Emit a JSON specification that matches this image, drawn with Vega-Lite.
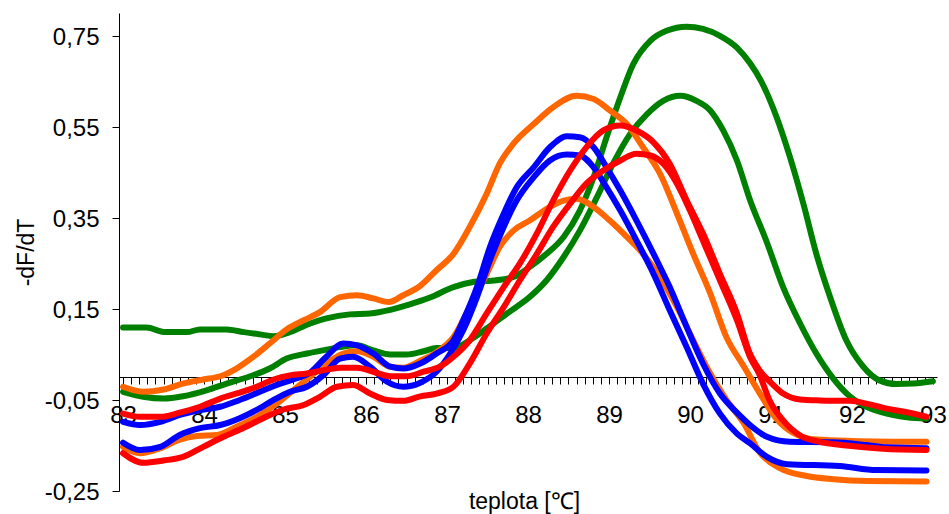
{
 "$schema": "https://vega.github.io/schema/vega-lite/v6.json",
 "width": 818,
 "height": 478,
 "autosize": "none",
 "padding": {"left": 119, "top": 13, "right": 12, "bottom": 23},
 "background": "white",
 "config": {"view": {"stroke": null}, "font": "Liberation Sans"},
 "data": {"values": [
  {"s":"G1","g":"A","t":83.0,"d":0.109},{"s":"G1","g":"A","t":83.29,"d":0.109},{"s":"G1","g":"A","t":83.52,"d":0.099},{"s":"G1","g":"A","t":83.79,"d":0.099},{"s":"G1","g":"A","t":83.95,"d":0.105},{"s":"G1","g":"A","t":84.28,"d":0.105},{"s":"G1","g":"A","t":84.49,"d":0.099},{"s":"G1","g":"A","t":84.69,"d":0.094},{"s":"G1","g":"A","t":84.86,"d":0.090},{"s":"G1","g":"A","t":85.06,"d":0.099},{"s":"G1","g":"A","t":85.31,"d":0.118},{"s":"G1","g":"A","t":85.51,"d":0.129},{"s":"G1","g":"A","t":85.80,"d":0.138},{"s":"G1","g":"A","t":86.05,"d":0.140},{"s":"G1","g":"A","t":86.30,"d":0.148},{"s":"G1","g":"A","t":86.54,"d":0.160},{"s":"G1","g":"A","t":86.79,"d":0.175},{"s":"G1","g":"A","t":87.08,"d":0.198},{"s":"G1","g":"A","t":87.32,"d":0.209},{"s":"G1","g":"A","t":87.61,"d":0.213},{"s":"G1","g":"A","t":87.82,"d":0.220},{"s":"G1","g":"A","t":88.02,"d":0.242},{"s":"G1","g":"A","t":88.23,"d":0.271},{"s":"G1","g":"A","t":88.44,"d":0.308},{"s":"G1","g":"A","t":88.64,"d":0.366},{"s":"G1","g":"A","t":88.81,"d":0.439},{"s":"G1","g":"A","t":88.97,"d":0.527},{"s":"G1","g":"A","t":89.14,"d":0.615},{"s":"G1","g":"A","t":89.30,"d":0.688},{"s":"G1","g":"A","t":89.51,"d":0.739},{"s":"G1","g":"A","t":89.71,"d":0.761},{"s":"G1","g":"A","t":89.96,"d":0.770},{"s":"G1","g":"A","t":90.16,"d":0.765},{"s":"G1","g":"A","t":90.37,"d":0.750},{"s":"G1","g":"A","t":90.58,"d":0.724},{"s":"G1","g":"A","t":90.74,"d":0.690},{"s":"G1","g":"A","t":90.88,"d":0.650},{"s":"G1","g":"A","t":91.07,"d":0.571},{"s":"G1","g":"A","t":91.23,"d":0.486},{"s":"G1","g":"A","t":91.40,"d":0.381},{"s":"G1","g":"A","t":91.56,"d":0.271},{"s":"G1","g":"A","t":91.73,"d":0.176},{"s":"G1","g":"A","t":91.93,"d":0.081},{"s":"G1","g":"A","t":92.14,"d":0.023},{"s":"G1","g":"A","t":92.34,"d":-0.007},{"s":"G1","g":"A","t":92.55,"d":-0.015},{"s":"G1","g":"A","t":92.76,"d":-0.014},{"s":"G1","g":"A","t":93.0,"d":-0.009},

  {"s":"G2","g":"A","t":83.0,"d":-0.032},{"s":"G2","g":"A","t":83.25,"d":-0.043},{"s":"G2","g":"A","t":83.50,"d":-0.047},{"s":"G2","g":"A","t":83.74,"d":-0.042},{"s":"G2","g":"A","t":84.03,"d":-0.029},{"s":"G2","g":"A","t":84.28,"d":-0.014},{"s":"G2","g":"A","t":84.57,"d":0.002},{"s":"G2","g":"A","t":84.81,"d":0.019},{"s":"G2","g":"A","t":85.02,"d":0.041},{"s":"G2","g":"A","t":85.27,"d":0.052},{"s":"G2","g":"A","t":85.47,"d":0.059},{"s":"G2","g":"A","t":85.68,"d":0.066},{"s":"G2","g":"A","t":85.89,"d":0.070},{"s":"G2","g":"A","t":86.09,"d":0.059},{"s":"G2","g":"A","t":86.30,"d":0.050},{"s":"G2","g":"A","t":86.50,"d":0.050},{"s":"G2","g":"A","t":86.71,"d":0.057},{"s":"G2","g":"A","t":86.87,"d":0.064},{"s":"G2","g":"A","t":87.08,"d":0.064},{"s":"G2","g":"A","t":87.28,"d":0.081},{"s":"G2","g":"A","t":87.49,"d":0.107},{"s":"G2","g":"A","t":87.74,"d":0.140},{"s":"G2","g":"A","t":88.02,"d":0.176},{"s":"G2","g":"A","t":88.23,"d":0.213},{"s":"G2","g":"A","t":88.44,"d":0.264},{"s":"G2","g":"A","t":88.64,"d":0.322},{"s":"G2","g":"A","t":88.85,"d":0.395},{"s":"G2","g":"A","t":89.05,"d":0.469},{"s":"G2","g":"A","t":89.26,"d":0.534},{"s":"G2","g":"A","t":89.47,"d":0.578},{"s":"G2","g":"A","t":89.67,"d":0.607},{"s":"G2","g":"A","t":89.88,"d":0.618},{"s":"G2","g":"A","t":90.08,"d":0.607},{"s":"G2","g":"A","t":90.25,"d":0.586},{"s":"G2","g":"A","t":90.41,"d":0.542},{"s":"G2","g":"A","t":90.58,"d":0.476},{"s":"G2","g":"A","t":90.74,"d":0.390},{"s":"G2","g":"A","t":90.95,"d":0.296},{"s":"G2","g":"A","t":91.15,"d":0.198},{"s":"G2","g":"A","t":91.36,"d":0.118},{"s":"G2","g":"A","t":91.56,"d":0.052},{"s":"G2","g":"A","t":91.77,"d":-0.003},{"s":"G2","g":"A","t":91.98,"d":-0.043},{"s":"G2","g":"A","t":92.18,"d":-0.065},{"s":"G2","g":"A","t":92.43,"d":-0.080},{"s":"G2","g":"A","t":92.68,"d":-0.088},{"s":"G2","g":"A","t":92.92,"d":-0.091},

  {"s":"O1","g":"B","t":83.0,"d":-0.021},{"s":"O1","g":"B","t":83.25,"d":-0.032},{"s":"O1","g":"B","t":83.50,"d":-0.027},{"s":"O1","g":"B","t":83.74,"d":-0.014},{"s":"O1","g":"B","t":83.99,"d":-0.005},{"s":"O1","g":"B","t":84.20,"d":0.002},{"s":"O1","g":"B","t":84.40,"d":0.019},{"s":"O1","g":"B","t":84.61,"d":0.045},{"s":"O1","g":"B","t":84.81,"d":0.074},{"s":"O1","g":"B","t":85.02,"d":0.105},{"s":"O1","g":"B","t":85.23,"d":0.125},{"s":"O1","g":"B","t":85.43,"d":0.143},{"s":"O1","g":"B","t":85.68,"d":0.176},{"s":"O1","g":"B","t":85.89,"d":0.180},{"s":"O1","g":"B","t":86.09,"d":0.173},{"s":"O1","g":"B","t":86.28,"d":0.165},{"s":"O1","g":"B","t":86.46,"d":0.180},{"s":"O1","g":"B","t":86.65,"d":0.198},{"s":"O1","g":"B","t":86.87,"d":0.235},{"s":"O1","g":"B","t":87.08,"d":0.271},{"s":"O1","g":"B","t":87.28,"d":0.330},{"s":"O1","g":"B","t":87.49,"d":0.403},{"s":"O1","g":"B","t":87.65,"d":0.469},{"s":"O1","g":"B","t":87.82,"d":0.513},{"s":"O1","g":"B","t":88.07,"d":0.556},{"s":"O1","g":"B","t":88.31,"d":0.593},{"s":"O1","g":"B","t":88.60,"d":0.618},{"s":"O1","g":"B","t":88.81,"d":0.611},{"s":"O1","g":"B","t":89.01,"d":0.586},{"s":"O1","g":"B","t":89.22,"d":0.556},{"s":"O1","g":"B","t":89.42,"d":0.505},{"s":"O1","g":"B","t":89.63,"d":0.447},{"s":"O1","g":"B","t":89.84,"d":0.359},{"s":"O1","g":"B","t":90.04,"d":0.271},{"s":"O1","g":"B","t":90.25,"d":0.184},{"s":"O1","g":"B","t":90.45,"d":0.088},{"s":"O1","g":"B","t":90.66,"d":0.025},{"s":"O1","g":"B","t":90.86,"d":-0.035},{"s":"O1","g":"B","t":91.07,"d":-0.092},{"s":"O1","g":"B","t":91.27,"d":-0.122},{"s":"O1","g":"B","t":91.56,"d":-0.137},{"s":"O1","g":"B","t":92.0,"d":-0.140},{"s":"O1","g":"B","t":92.92,"d":-0.142},

  {"s":"O2","g":"B","t":83.0,"d":-0.153},{"s":"O2","g":"B","t":83.21,"d":-0.167},{"s":"O2","g":"B","t":83.46,"d":-0.156},{"s":"O2","g":"B","t":83.70,"d":-0.137},{"s":"O2","g":"B","t":83.91,"d":-0.129},{"s":"O2","g":"B","t":84.16,"d":-0.127},{"s":"O2","g":"B","t":84.40,"d":-0.109},{"s":"O2","g":"B","t":84.65,"d":-0.087},{"s":"O2","g":"B","t":84.90,"d":-0.058},{"s":"O2","g":"B","t":85.10,"d":-0.029},{"s":"O2","g":"B","t":85.31,"d":0.001},{"s":"O2","g":"B","t":85.51,"d":0.030},{"s":"O2","g":"B","t":85.72,"d":0.052},{"s":"O2","g":"B","t":85.89,"d":0.057},{"s":"O2","g":"B","t":86.09,"d":0.045},{"s":"O2","g":"B","t":86.30,"d":0.023},{"s":"O2","g":"B","t":86.46,"d":0.021},{"s":"O2","g":"B","t":86.67,"d":0.036},{"s":"O2","g":"B","t":86.87,"d":0.055},{"s":"O2","g":"B","t":87.08,"d":0.088},{"s":"O2","g":"B","t":87.28,"d":0.154},{"s":"O2","g":"B","t":87.49,"d":0.227},{"s":"O2","g":"B","t":87.65,"d":0.286},{"s":"O2","g":"B","t":87.82,"d":0.322},{"s":"O2","g":"B","t":88.02,"d":0.344},{"s":"O2","g":"B","t":88.23,"d":0.370},{"s":"O2","g":"B","t":88.44,"d":0.388},{"s":"O2","g":"B","t":88.60,"d":0.392},{"s":"O2","g":"B","t":88.81,"d":0.374},{"s":"O2","g":"B","t":89.01,"d":0.344},{"s":"O2","g":"B","t":89.22,"d":0.308},{"s":"O2","g":"B","t":89.42,"d":0.271},{"s":"O2","g":"B","t":89.63,"d":0.220},{"s":"O2","g":"B","t":89.84,"d":0.154},{"s":"O2","g":"B","t":90.04,"d":0.081},{"s":"O2","g":"B","t":90.25,"d":0.008},{"s":"O2","g":"B","t":90.45,"d":-0.050},{"s":"O2","g":"B","t":90.66,"d":-0.100},{"s":"O2","g":"B","t":90.86,"d":-0.165},{"s":"O2","g":"B","t":91.11,"d":-0.200},{"s":"O2","g":"B","t":91.44,"d":-0.217},{"s":"O2","g":"B","t":91.77,"d":-0.224},{"s":"O2","g":"B","t":92.18,"d":-0.228},{"s":"O2","g":"B","t":92.92,"d":-0.229},

  {"s":"B1","g":"C","t":83.0,"d":-0.098},{"s":"B1","g":"C","t":83.21,"d":-0.105},{"s":"B1","g":"C","t":83.46,"d":-0.098},{"s":"B1","g":"C","t":83.70,"d":-0.083},{"s":"B1","g":"C","t":83.95,"d":-0.072},{"s":"B1","g":"C","t":84.20,"d":-0.065},{"s":"B1","g":"C","t":84.44,"d":-0.050},{"s":"B1","g":"C","t":84.69,"d":-0.032},{"s":"B1","g":"C","t":84.90,"d":-0.017},{"s":"B1","g":"C","t":85.10,"d":-0.005},{"s":"B1","g":"C","t":85.31,"d":0.010},{"s":"B1","g":"C","t":85.51,"d":0.045},{"s":"B1","g":"C","t":85.72,"d":0.074},{"s":"B1","g":"C","t":85.89,"d":0.070},{"s":"B1","g":"C","t":86.09,"d":0.052},{"s":"B1","g":"C","t":86.30,"d":0.023},{"s":"B1","g":"C","t":86.46,"d":0.019},{"s":"B1","g":"C","t":86.67,"d":0.030},{"s":"B1","g":"C","t":86.87,"d":0.052},{"s":"B1","g":"C","t":87.08,"d":0.081},{"s":"B1","g":"C","t":87.20,"d":0.125},{"s":"B1","g":"C","t":87.37,"d":0.198},{"s":"B1","g":"C","t":87.53,"d":0.286},{"s":"B1","g":"C","t":87.70,"d":0.359},{"s":"B1","g":"C","t":87.86,"d":0.417},{"s":"B1","g":"C","t":88.07,"d":0.461},{"s":"B1","g":"C","t":88.27,"d":0.505},{"s":"B1","g":"C","t":88.48,"d":0.529},{"s":"B1","g":"C","t":88.64,"d":0.527},{"s":"B1","g":"C","t":88.81,"d":0.505},{"s":"B1","g":"C","t":88.97,"d":0.461},{"s":"B1","g":"C","t":89.14,"d":0.410},{"s":"B1","g":"C","t":89.34,"d":0.344},{"s":"B1","g":"C","t":89.55,"d":0.271},{"s":"B1","g":"C","t":89.75,"d":0.198},{"s":"B1","g":"C","t":89.96,"d":0.110},{"s":"B1","g":"C","t":90.16,"d":0.030},{"s":"B1","g":"C","t":90.37,"d":-0.036},{"s":"B1","g":"C","t":90.58,"d":-0.078},{"s":"B1","g":"C","t":90.74,"d":-0.105},{"s":"B1","g":"C","t":90.95,"d":-0.131},{"s":"B1","g":"C","t":91.23,"d":-0.142},{"s":"B1","g":"C","t":91.77,"d":-0.143},{"s":"B1","g":"C","t":92.18,"d":-0.149},{"s":"B1","g":"C","t":92.43,"d":-0.154},{"s":"B1","g":"C","t":92.92,"d":-0.156},

  {"s":"B2","g":"C","t":83.0,"d":-0.144},{"s":"B2","g":"C","t":83.21,"d":-0.160},{"s":"B2","g":"C","t":83.46,"d":-0.153},{"s":"B2","g":"C","t":83.70,"d":-0.127},{"s":"B2","g":"C","t":83.95,"d":-0.112},{"s":"B2","g":"C","t":84.20,"d":-0.105},{"s":"B2","g":"C","t":84.44,"d":-0.090},{"s":"B2","g":"C","t":84.65,"d":-0.072},{"s":"B2","g":"C","t":84.86,"d":-0.050},{"s":"B2","g":"C","t":85.06,"d":-0.032},{"s":"B2","g":"C","t":85.27,"d":-0.021},{"s":"B2","g":"C","t":85.47,"d":0.004},{"s":"B2","g":"C","t":85.68,"d":0.041},{"s":"B2","g":"C","t":85.84,"d":0.045},{"s":"B2","g":"C","t":86.05,"d":0.023},{"s":"B2","g":"C","t":86.26,"d":-0.010},{"s":"B2","g":"C","t":86.46,"d":-0.021},{"s":"B2","g":"C","t":86.67,"d":-0.012},{"s":"B2","g":"C","t":86.87,"d":0.012},{"s":"B2","g":"C","t":87.04,"d":0.052},{"s":"B2","g":"C","t":87.20,"d":0.103},{"s":"B2","g":"C","t":87.37,"d":0.176},{"s":"B2","g":"C","t":87.53,"d":0.257},{"s":"B2","g":"C","t":87.70,"d":0.330},{"s":"B2","g":"C","t":87.86,"d":0.388},{"s":"B2","g":"C","t":88.07,"d":0.439},{"s":"B2","g":"C","t":88.27,"d":0.476},{"s":"B2","g":"C","t":88.48,"d":0.489},{"s":"B2","g":"C","t":88.64,"d":0.487},{"s":"B2","g":"C","t":88.81,"d":0.461},{"s":"B2","g":"C","t":88.97,"d":0.417},{"s":"B2","g":"C","t":89.14,"d":0.366},{"s":"B2","g":"C","t":89.34,"d":0.300},{"s":"B2","g":"C","t":89.55,"d":0.227},{"s":"B2","g":"C","t":89.75,"d":0.147},{"s":"B2","g":"C","t":89.96,"d":0.066},{"s":"B2","g":"C","t":90.16,"d":-0.014},{"s":"B2","g":"C","t":90.37,"d":-0.080},{"s":"B2","g":"C","t":90.58,"d":-0.124},{"s":"B2","g":"C","t":90.74,"d":-0.145},{"s":"B2","g":"C","t":90.95,"d":-0.175},{"s":"B2","g":"C","t":91.20,"d":-0.191},{"s":"B2","g":"C","t":91.85,"d":-0.195},{"s":"B2","g":"C","t":92.30,"d":-0.204},{"s":"B2","g":"C","t":92.92,"d":-0.205},

  {"s":"R1","g":"D","t":83.0,"d":-0.080},{"s":"R1","g":"D","t":83.21,"d":-0.087},{"s":"R1","g":"D","t":83.46,"d":-0.087},{"s":"R1","g":"D","t":83.70,"d":-0.078},{"s":"R1","g":"D","t":83.95,"d":-0.065},{"s":"R1","g":"D","t":84.20,"d":-0.047},{"s":"R1","g":"D","t":84.44,"d":-0.034},{"s":"R1","g":"D","t":84.65,"d":-0.021},{"s":"R1","g":"D","t":84.86,"d":-0.005},{"s":"R1","g":"D","t":85.06,"d":0.004},{"s":"R1","g":"D","t":85.27,"d":0.008},{"s":"R1","g":"D","t":85.47,"d":0.015},{"s":"R1","g":"D","t":85.68,"d":0.021},{"s":"R1","g":"D","t":85.89,"d":0.021},{"s":"R1","g":"D","t":86.09,"d":0.012},{"s":"R1","g":"D","t":86.30,"d":0.002},{"s":"R1","g":"D","t":86.50,"d":0.002},{"s":"R1","g":"D","t":86.71,"d":0.012},{"s":"R1","g":"D","t":86.91,"d":0.023},{"s":"R1","g":"D","t":87.08,"d":0.045},{"s":"R1","g":"D","t":87.28,"d":0.081},{"s":"R1","g":"D","t":87.49,"d":0.140},{"s":"R1","g":"D","t":87.70,"d":0.198},{"s":"R1","g":"D","t":87.90,"d":0.250},{"s":"R1","g":"D","t":88.11,"d":0.316},{"s":"R1","g":"D","t":88.31,"d":0.388},{"s":"R1","g":"D","t":88.52,"d":0.454},{"s":"R1","g":"D","t":88.72,"d":0.505},{"s":"R1","g":"D","t":88.93,"d":0.542},{"s":"R1","g":"D","t":89.14,"d":0.553},{"s":"R1","g":"D","t":89.34,"d":0.542},{"s":"R1","g":"D","t":89.55,"d":0.516},{"s":"R1","g":"D","t":89.75,"d":0.469},{"s":"R1","g":"D","t":89.96,"d":0.388},{"s":"R1","g":"D","t":90.16,"d":0.316},{"s":"R1","g":"D","t":90.37,"d":0.227},{"s":"R1","g":"D","t":90.58,"d":0.140},{"s":"R1","g":"D","t":90.74,"d":0.052},{"s":"R1","g":"D","t":90.86,"d":0.015},{"s":"R1","g":"D","t":91.00,"d":-0.012},{"s":"R1","g":"D","t":91.15,"d":-0.036},{"s":"R1","g":"D","t":91.36,"d":-0.049},{"s":"R1","g":"D","t":91.60,"d":-0.051},{"s":"R1","g":"D","t":91.98,"d":-0.052},{"s":"R1","g":"D","t":92.18,"d":-0.058},{"s":"R1","g":"D","t":92.43,"d":-0.069},{"s":"R1","g":"D","t":92.68,"d":-0.077},{"s":"R1","g":"D","t":92.92,"d":-0.087},

  {"s":"R2","g":"D","t":83.0,"d":-0.167},{"s":"R2","g":"D","t":83.25,"d":-0.188},{"s":"R2","g":"D","t":83.50,"d":-0.183},{"s":"R2","g":"D","t":83.74,"d":-0.175},{"s":"R2","g":"D","t":83.99,"d":-0.153},{"s":"R2","g":"D","t":84.24,"d":-0.131},{"s":"R2","g":"D","t":84.49,"d":-0.111},{"s":"R2","g":"D","t":84.73,"d":-0.090},{"s":"R2","g":"D","t":84.98,"d":-0.071},{"s":"R2","g":"D","t":85.23,"d":-0.061},{"s":"R2","g":"D","t":85.43,"d":-0.043},{"s":"R2","g":"D","t":85.64,"d":-0.021},{"s":"R2","g":"D","t":85.84,"d":-0.017},{"s":"R2","g":"D","t":86.05,"d":-0.036},{"s":"R2","g":"D","t":86.26,"d":-0.050},{"s":"R2","g":"D","t":86.46,"d":-0.052},{"s":"R2","g":"D","t":86.67,"d":-0.042},{"s":"R2","g":"D","t":86.87,"d":-0.036},{"s":"R2","g":"D","t":87.08,"d":-0.021},{"s":"R2","g":"D","t":87.28,"d":0.030},{"s":"R2","g":"D","t":87.49,"d":0.096},{"s":"R2","g":"D","t":87.70,"d":0.154},{"s":"R2","g":"D","t":87.90,"d":0.213},{"s":"R2","g":"D","t":88.11,"d":0.271},{"s":"R2","g":"D","t":88.31,"d":0.330},{"s":"R2","g":"D","t":88.52,"d":0.381},{"s":"R2","g":"D","t":88.72,"d":0.425},{"s":"R2","g":"D","t":88.93,"d":0.454},{"s":"R2","g":"D","t":89.14,"d":0.476},{"s":"R2","g":"D","t":89.34,"d":0.491},{"s":"R2","g":"D","t":89.51,"d":0.487},{"s":"R2","g":"D","t":89.67,"d":0.469},{"s":"R2","g":"D","t":89.84,"d":0.425},{"s":"R2","g":"D","t":90.00,"d":0.366},{"s":"R2","g":"D","t":90.16,"d":0.300},{"s":"R2","g":"D","t":90.37,"d":0.213},{"s":"R2","g":"D","t":90.58,"d":0.125},{"s":"R2","g":"D","t":90.74,"d":0.045},{"s":"R2","g":"D","t":90.86,"d":0.005},{"s":"R2","g":"D","t":90.98,"d":-0.050},{"s":"R2","g":"D","t":91.15,"d":-0.095},{"s":"R2","g":"D","t":91.36,"d":-0.128},{"s":"R2","g":"D","t":91.60,"d":-0.142},{"s":"R2","g":"D","t":91.93,"d":-0.150},{"s":"R2","g":"D","t":92.38,"d":-0.157},{"s":"R2","g":"D","t":92.92,"d":-0.160}
 ]},
 "encoding": {
  "x": {
   "field": "t", "type": "quantitative",
   "scale": {"domain": [82.95, 93.05], "nice": false, "zero": false},
   "axis": {
    "values": [83,83.1,83.2,83.3,83.4,83.5,83.6,83.7,83.8,83.9,84,84.1,84.2,84.3,84.4,84.5,84.6,84.7,84.8,84.9,85,85.1,85.2,85.3,85.4,85.5,85.6,85.7,85.8,85.9,86,86.1,86.2,86.3,86.4,86.5,86.6,86.7,86.8,86.9,87,87.1,87.2,87.3,87.4,87.5,87.6,87.7,87.8,87.9,88,88.1,88.2,88.3,88.4,88.5,88.6,88.7,88.8,88.9,89,89.1,89.2,89.3,89.4,89.5,89.6,89.7,89.8,89.9,90,90.1,90.2,90.3,90.4,90.5,90.6,90.7,90.8,90.9,91,91.1,91.2,91.3,91.4,91.5,91.6,91.7,91.8,91.9,92,92.1,92.2,92.3,92.4,92.5,92.6,92.7,92.8,92.9,93],
    "offset": -114,
    "grid": false,
    "domainColor": "black", "domainWidth": 1,
    "tickColor": "black", "tickSize": 7, "tickWidth": 1,
    "labelExpr": "abs(datum.value - round(datum.value)) < 0.01 ? format(datum.value, 'd') : ''",
    "labelFontSize": 24, "labelColor": "black", "labelFont": "Liberation Sans",
    "labelBaseline": "alphabetic", "labelPadding": 38,
    "labelOverlap": false, "labelBound": false, "labelFlush": false,
    "title": "teplota [℃]", "titleFontSize": 23, "titleFontWeight": "normal", "titleColor": "black", "titleFont": "Liberation Sans",
    "titleBaseline": "alphabetic", "titleY": 131, "titleX": 405
   }
  },
  "y": {
   "field": "d", "type": "quantitative",
   "scale": {"domain": [-0.25, 0.8], "nice": false, "zero": false},
   "axis": {
    "values": [-0.25, -0.05, 0.15, 0.35, 0.55, 0.75],
    "labelExpr": "(datum.value < 0 ? '-' : '') + replace(format(abs(datum.value), '.2f'), '.', ',')",
    "grid": false,
    "domainColor": "black", "domainWidth": 1,
    "tickColor": "black", "tickSize": 7, "tickWidth": 1,
    "labelFontSize": 24, "labelColor": "black", "labelFont": "Liberation Sans",
    "labelPadding": 13, "labelBaseline": "alphabetic", "labelOffset": 8.6,
    "labelOverlap": false, "labelBound": false, "labelFlush": false,
    "title": "-dF/dT", "titleFontSize": 23, "titleFontWeight": "normal", "titleColor": "black", "titleFont": "Liberation Sans",
    "titleAngle": 270, "titleBaseline": "alphabetic", "titleX": -86, "titleY": 239
   }
  },
  "color": {
   "field": "g", "type": "nominal",
   "scale": {"domain": ["A", "B", "C", "D"], "range": ["#008000", "#FF6600", "#0000FF", "#FF0000"]},
   "legend": null
  },
  "detail": {"field": "s", "type": "nominal"},
  "order": {"field": "t", "type": "quantitative"}
 },
 "layer": [
  {"transform": [{"filter": "datum.g === 'A'"}], "mark": {"type": "line", "strokeWidth": 6, "interpolate": "monotone", "strokeCap": "round", "strokeJoin": "round", "clip": false}},
  {"transform": [{"filter": "datum.g === 'B'"}], "mark": {"type": "line", "strokeWidth": 6, "interpolate": "monotone", "strokeCap": "round", "strokeJoin": "round", "clip": false}},
  {"transform": [{"filter": "datum.g === 'C'"}], "mark": {"type": "line", "strokeWidth": 6, "interpolate": "monotone", "strokeCap": "round", "strokeJoin": "round", "clip": false}},
  {"transform": [{"filter": "datum.g === 'D'"}], "mark": {"type": "line", "strokeWidth": 6, "interpolate": "monotone", "strokeCap": "round", "strokeJoin": "round", "clip": false}}
 ]
}
